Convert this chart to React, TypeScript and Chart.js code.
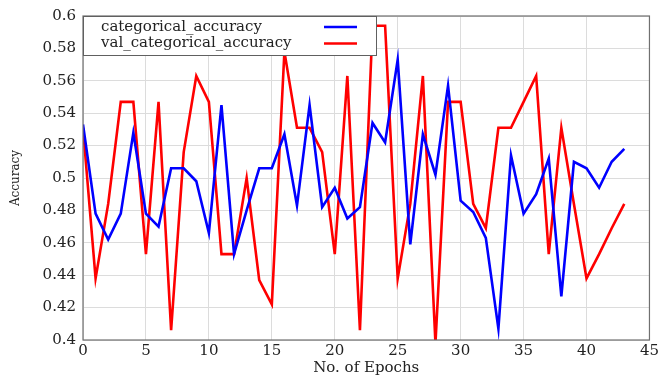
import React, { useEffect, useRef } from "react";
import { Chart, registerables } from "chart.js";

Chart.register(...registerables);

const epochs: number[] = Array.from({ length: 44 }, (_, i) => i);

const trainAcc: number[] = [
  0.533, 0.478, 0.462, 0.478, 0.528, 0.478, 0.47, 0.506, 0.506, 0.498,
  0.466, 0.545, 0.453, 0.48, 0.506, 0.506, 0.527, 0.483, 0.545, 0.482,
  0.494, 0.475, 0.482, 0.534, 0.522, 0.573, 0.459, 0.527, 0.502, 0.557,
  0.486, 0.479, 0.463, 0.407, 0.514, 0.478, 0.49, 0.512, 0.427, 0.51,
  0.506, 0.494, 0.51, 0.518,
];

const valAcc: number[] = [
  0.531, 0.438, 0.484, 0.547, 0.547, 0.453, 0.547, 0.406, 0.516, 0.563,
  0.547, 0.453, 0.453, 0.5, 0.437, 0.422, 0.578, 0.531, 0.531, 0.516,
  0.453, 0.563, 0.406, 0.594, 0.594, 0.438, 0.484, 0.563, 0.398, 0.547,
  0.547, 0.484, 0.469, 0.531, 0.531, 0.547, 0.563, 0.453, 0.531, 0.484,
  0.438, 0.453, 0.469, 0.484,
];

const seriesLabels: string[] = ["categorical_accuracy", "val_categorical_accuracy"];
const seriesColors: string[] = ["#0000ff", "#ff0000"];

const xTitle = "No. of Epochs";
const yTitle = "Accuracy";

const FONT = "'DejaVu Serif', serif";

const framePlugin = {
  id: "frame",
  afterDatasetsDraw(chart: any) {
    const { ctx, chartArea } = chart;
    const { left, top, right, bottom } = chartArea;
    ctx.save();
    ctx.strokeStyle = "#707070";
    ctx.lineWidth = 1.2;
    ctx.strokeRect(left, top, right - left, bottom - top);

    // legend box
    const bx = left;
    const by = top;
    const bw = 293;
    const bh = 39;
    ctx.fillStyle = "#ffffff";
    ctx.fillRect(bx, by, bw, bh);
    ctx.strokeStyle = "#606060";
    ctx.lineWidth = 1;
    ctx.strokeRect(bx + 0.5, by + 0.5, bw, bh);
    ctx.font = `15px ${FONT}`;
    ctx.textBaseline = "middle";
    ctx.textAlign = "left";
    chart.data.datasets.forEach((ds: any, i: number) => {
      const cy = by + 11 + i * 16.5;
      ctx.fillStyle = "#222222";
      ctx.fillText(ds.label, bx + 18, cy);
      ctx.strokeStyle = ds.borderColor;
      ctx.lineWidth = 2.5;
      ctx.beginPath();
      ctx.moveTo(bx + 241, cy);
      ctx.lineTo(bx + 274, cy);
      ctx.stroke();
    });
    ctx.restore();
  },
};

export default function App() {
  const canvasRef = useRef<HTMLCanvasElement | null>(null);

  useEffect(() => {
    document.body.style.margin = "0";
    const canvas = canvasRef.current;
    if (!canvas) return;
    const chart = new Chart(canvas, {
      type: "line",
      data: {
        datasets: [trainAcc, valAcc].map((vals, i) => ({
          label: seriesLabels[i],
          data: epochs.map((e, j) => ({ x: e, y: vals[j] })),
          borderColor: seriesColors[i],
          backgroundColor: seriesColors[i],
          borderWidth: 2.6,
          pointRadius: 0,
          tension: 0,
          fill: false,
        })),
      },
      options: {
        responsive: false,
        animation: false,
        maintainAspectRatio: false,
        layout: { padding: { left: 0, top: 14, right: 9, bottom: 0 } },
        plugins: {
          legend: { display: false },
          tooltip: { enabled: false },
        },
        scales: {
          x: {
            type: "linear",
            min: 0,
            max: 45,
            ticks: {
              stepSize: 5,
              color: "#222",
              font: { family: FONT, size: 15 },
              padding: 2,
              maxRotation: 0,
            },
            grid: { color: "#dcdcdc", drawTicks: false, lineWidth: 1 },
            border: { display: false },
            title: {
              display: true,
              text: xTitle,
              color: "#222",
              font: { family: FONT, size: 15, lineHeight: 1 },
              padding: { top: 0, bottom: 0 },
            },
            afterFit(scale: any) {
              scale.height = 36;
            },
          },
          y: {
            min: 0.4,
            max: 0.6,
            ticks: {
              stepSize: 0.02,
              color: "#222",
              font: { family: FONT, size: 15 },
              padding: 7,
              callback: (v: any) => String(Number(Number(v).toFixed(2))),
            },
            grid: { color: "#dcdcdc", drawTicks: false, lineWidth: 1 },
            border: { display: false },
            title: {
              display: true,
              text: yTitle,
              color: "#222",
              font: { family: FONT, size: 12, lineHeight: 1.2 },
              padding: { top: 9, bottom: 0 },
            },
            afterFit(scale: any) {
              scale.width = 83;
            },
          },
        },
      },
      plugins: [framePlugin],
    } as any);
    return () => chart.destroy();
  }, []);

  return (
    <div style={{ width: 661, height: 376 }}>
      <canvas ref={canvasRef} width={661} height={376} style={{ display: "block" }} />
    </div>
  );
}
